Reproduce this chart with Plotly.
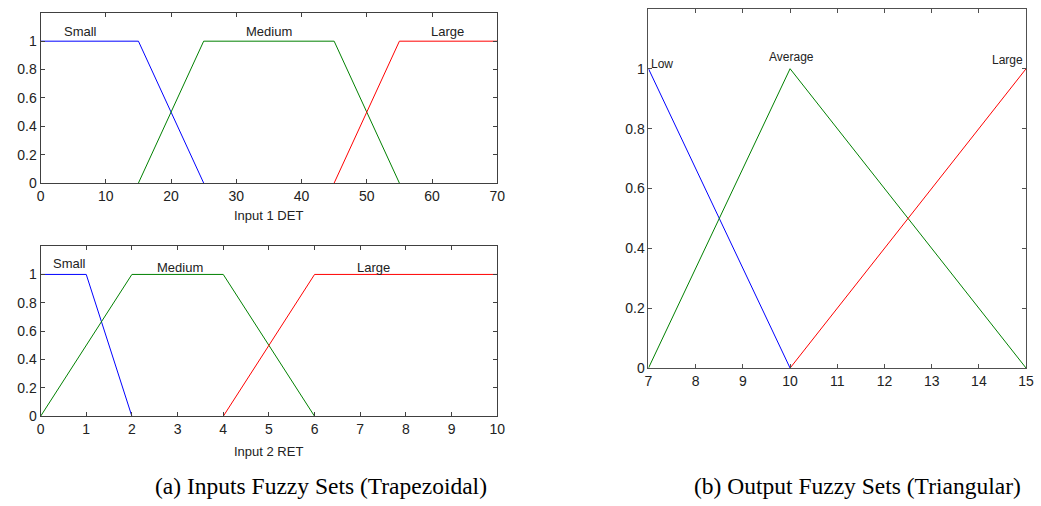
import plotly.graph_objects as go

# ---- data ----
# Input 1 DET (trapezoidal)
det_small_x = [0, 15, 25]
det_small_y = [1, 1, 0]
det_medium_x = [15, 25, 45, 55]
det_medium_y = [0, 1, 1, 0]
det_large_x = [45, 55, 70]
det_large_y = [0, 1, 1]

# Input 2 RET (trapezoidal)
ret_small_x = [0, 1, 2]
ret_small_y = [1, 1, 0]
ret_medium_x = [0, 2, 4, 6]
ret_medium_y = [0, 1, 1, 0]
ret_large_x = [4, 6, 10]
ret_large_y = [0, 1, 1]

# Output (triangular)
out_low_x = [7, 10]
out_low_y = [1, 0]
out_avg_x = [7, 10, 15]
out_avg_y = [0, 1, 0]
out_large_x = [10, 15]
out_large_y = [0, 1]

set_labels_1 = ["Small", "Medium", "Large"]
set_labels_1_pos = [(6.1, 1.07), (35, 1.07), (62.3, 1.07)]
set_labels_2 = ["Small", "Medium", "Large"]
set_labels_2_pos = [(0.63, 1.08), (3.06, 1.05), (7.29, 1.05)]
out_labels = ["Low", "Average", "Large"]
out_labels_pos = [(7.29, 1.015), (10.02, 1.04), (14.6, 1.03)]

y_ticks = [0, 0.2, 0.4, 0.6, 0.8, 1]
y_ticktext = ["0", "0.2", "0.4", "0.6", "0.8", "1"]
x1_ticks = [0, 10, 20, 30, 40, 50, 60, 70]
x2_ticks = [0, 1, 2, 3, 4, 5, 6, 7, 8, 9, 10]
x3_ticks = [7, 8, 9, 10, 11, 12, 13, 14, 15]

BLUE = "#0000ff"
GREEN = "#008000"
RED = "#ff0000"

W, H = 1041, 506

fig = go.Figure()

def add(x, y, color, xa, ya):
    fig.add_trace(go.Scatter(x=x, y=y, mode="lines", line=dict(color=color, width=1),
                             xaxis=xa, yaxis=ya, showlegend=False, hoverinfo="skip"))

add(det_small_x, det_small_y, BLUE, "x", "y")
add(det_medium_x, det_medium_y, GREEN, "x", "y")
add(det_large_x, det_large_y, RED, "x", "y")
add(ret_small_x, ret_small_y, BLUE, "x2", "y2")
add(ret_medium_x, ret_medium_y, GREEN, "x2", "y2")
add(ret_large_x, ret_large_y, RED, "x2", "y2")
add(out_low_x, out_low_y, BLUE, "x3", "y3")
add(out_avg_x, out_avg_y, GREEN, "x3", "y3")
add(out_large_x, out_large_y, RED, "x3", "y3")

tickfont_l = dict(family="Liberation Sans, Arial, sans-serif", size=14, color="#222")
tickfont_r = dict(family="Liberation Sans Narrow, Liberation Sans, sans-serif", size=14, color="#222")

def axis_common(color, tf):
    return dict(showline=True, linecolor=color, linewidth=1, mirror="ticks",
                ticks="inside", ticklen=4, tickcolor=color, showgrid=False,
                zeroline=False, tickfont=tf, fixedrange=True)

def px_dom_x(a, b):
    return [a / W, b / W]

def px_dom_y(top, bottom):
    return [1 - bottom / H, 1 - top / H]

fig.update_layout(
    width=W, height=H,
    margin=dict(l=0, r=0, t=0, b=0),
    paper_bgcolor="white", plot_bgcolor="white",
    xaxis=dict(domain=px_dom_x(37, 499), range=[0, 70], tickvals=x1_ticks, anchor="y",
               **axis_common("#404040", tickfont_l)),
    yaxis=dict(domain=px_dom_y(13, 186), range=[0, 1.2], tickvals=y_ticks, ticktext=y_ticktext,
               anchor="x", **axis_common("#404040", tickfont_l)),
    xaxis2=dict(domain=px_dom_x(37, 499), range=[0, 10], tickvals=x2_ticks, anchor="y2",
                **axis_common("#404040", tickfont_l)),
    yaxis2=dict(domain=px_dom_y(250, 423), range=[0, 1.2], tickvals=y_ticks, ticktext=y_ticktext,
                anchor="x2", **axis_common("#404040", tickfont_l)),
    xaxis3=dict(domain=px_dom_x(652, 1034), range=[7, 15], tickvals=x3_ticks, anchor="y3",
                **axis_common("#505050", tickfont_r)),
    yaxis3=dict(domain=px_dom_y(9, 374), range=[0, 1.2], tickvals=y_ticks, ticktext=y_ticktext,
                anchor="x3", **axis_common("#505050", tickfont_r)),
)

labfont = dict(family="Liberation Sans, Arial, sans-serif", size=13, color="#222")
annots = []
def ann(x, y, xref, yref, text, font):
    annots.append(dict(x=x, y=y, xref=xref, yref=yref, text=text, showarrow=False,
                       xanchor="center", yanchor="middle", font=font))

for t, (x, y) in zip(set_labels_1, set_labels_1_pos):
    ann(x, y, "x", "y", t, labfont)
for t, (x, y) in zip(set_labels_2, set_labels_2_pos):
    ann(x, y, "x2", "y2", t, labfont)
outfont = dict(family="Liberation Sans Narrow, Liberation Sans, sans-serif", size=12, color="#222")
for t, (x, y) in zip(out_labels, out_labels_pos):
    ann(x, y, "x3", "y3", t, outfont)

ann(268 / W, 1 - 219 / H, "paper", "paper", "Input 1 DET", labfont)
ann(268 / W, 1 - 459 / H, "paper", "paper", "Input 2 RET", labfont)
capfont = dict(family="Liberation Serif, Times New Roman, serif", size=23.5, color="black")
ann(321 / W, 1 - 494 / H, "paper", "paper", "(a) Inputs Fuzzy Sets (Trapezoidal)", capfont)
ann(863 / W, 1 - 494 / H, "paper", "paper", "(b) Output Fuzzy Sets (Triangular)", capfont)
fig.update_layout(annotations=annots)

fig.write_html("out.html", config={"displayModeBar": False},
               post_script="document.body.style.margin='0';document.body.style.overflow='hidden';")
